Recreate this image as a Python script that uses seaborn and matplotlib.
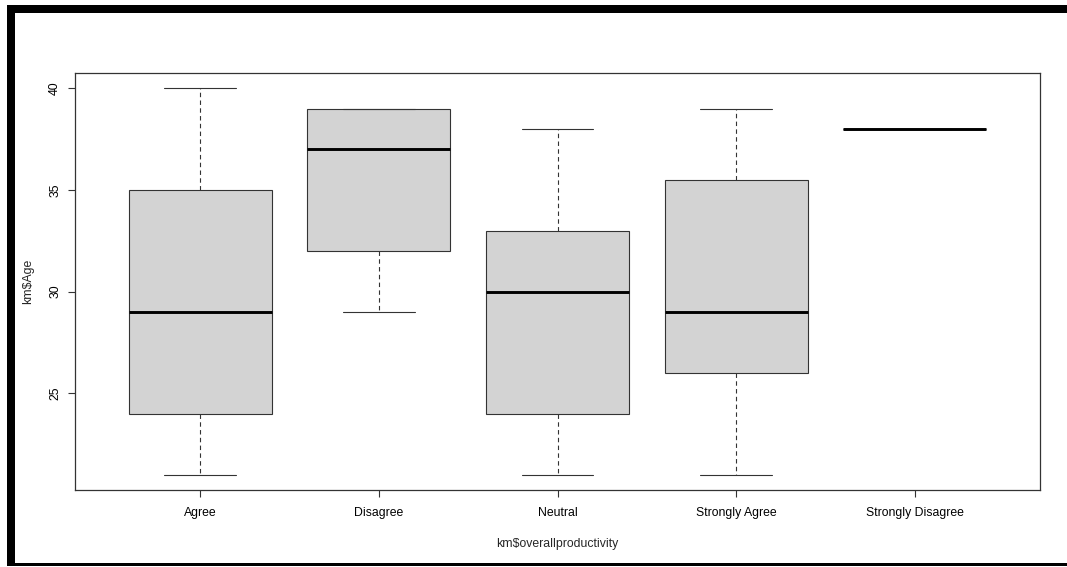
import matplotlib
matplotlib.use("Agg")
import matplotlib.pyplot as plt
from matplotlib.patches import Rectangle
import pandas as pd
import seaborn as sns

# Five-number summaries of age for each productivity response
categories = ["Agree", "Disagree", "Neutral", "Strongly Agree", "Strongly Disagree"]
age_min = [21, 29, 21, 21, 38]
age_q1 = [24, 32, 24, 26, 38]
age_median = [29, 37, 30, 29, 38]
age_q3 = [35, 39, 33, 35.5, 38]
age_max = [40, 39, 38, 39, 38]
y_ticks = [25, 30, 35, 40]

rows = []
for i, cat in enumerate(categories):
    for v in (age_min[i], age_q1[i], age_median[i], age_q3[i], age_max[i]):
        rows.append({"overallproductivity": cat, "Age": v})
df = pd.DataFrame(rows)

sns.set_style("white")
plt.rcParams["font.family"] = ["Liberation Sans", "DejaVu Sans"]

W, H = 1067, 567
fig = plt.figure(figsize=(W / 100, H / 100), dpi=100)
ax = fig.add_axes([75 / W, 1 - 490 / H, (1040 - 75) / W, (490 - 73) / H])

line_col = "#1a1a1a"
sns.boxplot(
    data=df, x="overallproductivity", y="Age", order=categories,
    color="#d3d3d3", saturation=1, linecolor=line_col, linewidth=0.8,
    width=0.8, whis=1.5, fliersize=0, ax=ax,
    whiskerprops=dict(linestyle=(0, (4, 3)), linewidth=0.8, color="#333333"),
    capprops=dict(linewidth=0.8, color="#333333"),
    medianprops=dict(linewidth=2.1, color="black"),
    boxprops=dict(edgecolor="#333333", linewidth=0.8),
)

ax.set_xlim(-0.7, len(categories) - 0.3)
ax.set_ylim(20.24, 40.76)
ax.set_yticks(y_ticks)
ax.set_yticklabels([str(t) for t in y_ticks], rotation=90, va="center")
ax.set_xticks(range(len(categories)))
ax.set_xticklabels(categories)
ax.tick_params(axis="both", which="both", direction="out", length=5,
               width=0.8, color="#333333", labelsize=8.8, labelcolor="black",
               left=True, bottom=True, pad=7)
ax.tick_params(axis="y", pad=5)
ax.set_xlabel("km$overallproductivity", fontsize=8.8, labelpad=14)
ax.set_ylabel("km$Age", fontsize=8.8, labelpad=11)
for s in ax.spines.values():
    s.set_visible(True)
    s.set_color("#333333")
    s.set_linewidth(0.9)
ax.grid(False)

# Black window frame around the plot
def px_rect(x0, y0, x1, y1):
    fig.add_artist(Rectangle((x0 / W, 1 - y1 / H), (x1 - x0) / W, (y1 - y0) / H,
                             transform=fig.transFigure, facecolor="black",
                             edgecolor="none", zorder=10))

px_rect(7, 5, W, 13)
px_rect(7, 5, 15, 565)
px_rect(7, 563, W, 565.5)

fig.savefig("out.png", dpi=100)
